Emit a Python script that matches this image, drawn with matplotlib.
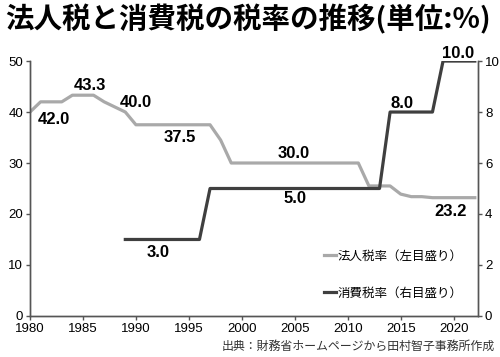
import matplotlib.pyplot as plt

plt.rcParams['font.family'] = ['Noto Sans CJK JP', 'DejaVu Sans']

# 法人税率（%）
hojin_years = [1980, 1981, 1983, 1984, 1986, 1987, 1988, 1989, 1990, 1997, 1998, 1999,
               2011, 2012, 2014, 2015, 2016, 2017, 2018, 2022]
hojin_rate = [40.0, 42.0, 42.0, 43.3, 43.3, 42.0, 41.0, 40.0, 37.5, 37.5, 34.5, 30.0,
              30.0, 25.5, 25.5, 23.9, 23.4, 23.4, 23.2, 23.2]

# 消費税率（%）
shohi_years = [1989, 1996, 1997, 2013, 2014, 2018, 2019, 2022]
shohi_rate = [3.0, 3.0, 5.0, 5.0, 8.0, 8.0, 10.0, 10.0]

# ラベル
hojin_labels = [(1982.3, 38.6, "42.0"), (1985.7, 45.2, "43.3"), (1990.0, 41.8, "40.0"),
                (1994.1, 35.0, "37.5"), (2004.9, 31.8, "30.0"), (2019.7, 20.4, "23.2")]
shohi_labels = [(1992.1, 2.5, "3.0"), (2005.0, 4.6, "5.0"),
                (2015.1, 8.35, "8.0"), (2020.4, 10.3, "10.0")]

GRIS = "#a9a9a9"
OSCURO = "#3f3f3f"

fig = plt.figure(figsize=(5, 3.57), dpi=100)
ax1 = fig.add_axes([0.06, 0.115, 0.896, 0.714])
ax2 = ax1.twinx()

l1, = ax1.plot(hojin_years, hojin_rate, color=GRIS, linewidth=2.3, label="法人税率（左目盛り）")
l2, = ax2.plot(shohi_years, shohi_rate, color=OSCURO, linewidth=2.3, label="消費税率（右目盛り）")

for x, y, t in hojin_labels:
    ax1.text(x, y, t, ha="center", va="center", fontsize=12, fontweight="bold",
             family="Liberation Sans")
for x, y, t in shohi_labels:
    ax2.text(x, y, t, ha="center", va="center", fontsize=12, fontweight="bold",
             family="Liberation Sans")

ax1.set_xlim(1980, 2022.3)
ax1.set_ylim(0, 50)
ax2.set_ylim(0, 10)
ax1.set_xticks([1980, 1985, 1990, 1995, 2000, 2005, 2010, 2015, 2020])
ax1.set_yticks([0, 10, 20, 30, 40, 50])
ax2.set_yticks([0, 2, 4, 6, 8, 10])

for ax in (ax1, ax2):
    ax.spines["top"].set_visible(False)
    for s in ("left", "right", "bottom"):
        ax.spines[s].set_color("#555555")
        ax.spines[s].set_linewidth(1.0)
    ax.tick_params(labelsize=9.5, length=3, color="#555555", width=1.0, pad=2)
    for lab in ax.get_xticklabels() + ax.get_yticklabels():
        lab.set_family("Liberation Sans")

ax1.legend(handles=[l1, l2], loc="lower right", bbox_to_anchor=(0.99, 0.02),
           frameon=False, fontsize=9, handlelength=1.0, handletextpad=0.1,
           labelspacing=1.9)

fig.text(0.01, 0.945, "法人税と消費税の税率の推移(単位:%)", fontsize=20.5, fontweight="bold",
         ha="left", va="center")
fig.text(0.99, 0.012, "出典：財務省ホームページから田村智子事務所作成", fontsize=8.6,
         color="#333333", ha="right", va="bottom")

plt.savefig("out.png", dpi=100)
